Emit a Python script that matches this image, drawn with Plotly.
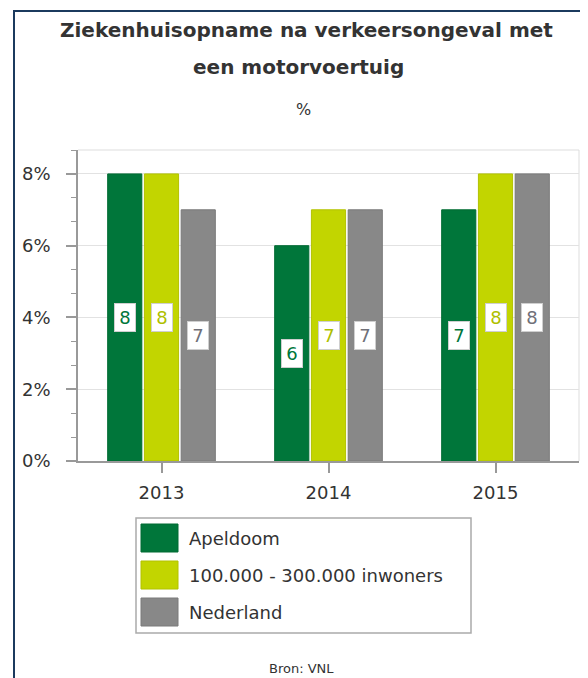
import plotly.graph_objects as go

# ---- data ----
years = ["2013", "2014", "2015"]
series_names = ["Apeldoom", "100.000 - 300.000 inwoners", "Nederland"]
apeldoorn = [8, 6, 7]
inwoners = [8, 7, 8]
nederland = [7, 7, 8]
y_tickvals = [0, 2, 4, 6, 8]
y_ticktext = ["0%", "2%", "4%", "6%", "8%"]

title_line1 = "Ziekenhuisopname na verkeersongeval met"
title_line2 = "een motorvoertuig"
subtitle = "%"
source = "Bron: VNL"

series_values = [apeldoorn, inwoners, nederland]
fill_colors = ["#00763a", "#c2d500", "#888888"]
line_colors = ["#006b33", "#b2c200", "#7a7a7a"]
label_colors = ["#00763a", "#aebf00", "#707078"]

# the page body adds an 8px offset; work in reference pixels and shift
OFF = 8
W, H = 588 - OFF, 678 - OFF
L, R, T, B = 78 - OFF, 579 - OFF, 150 - OFF, 461 - OFF  # plot area in figure px
FONT = "DejaVu Sans"
TXT = "#333333"


def px2x(px):
    """reference pixel x -> paper x"""
    return (px - OFF - L) / (R - L)


def py2y(py):
    """reference pixel y -> paper y"""
    return (B - (py - OFF)) / (B - T)


bargap = 0.34
bargroupgap = 0.07
slot = (1 - bargap) / len(series_names)

fig = go.Figure()
for name, vals, fc, lc in zip(series_names, series_values, fill_colors, line_colors):
    fig.add_trace(go.Bar(
        x=years, y=vals, name=name,
        marker=dict(color=fc, line=dict(color=lc, width=1)),
        showlegend=False, hoverinfo="skip",
    ))

annotations = []
# value labels in white boxes, centred in each bar
for k, (vals, tc) in enumerate(zip(series_values, label_colors)):
    for i, v in enumerate(vals):
        annotations.append(dict(
            x=i + (k - 1) * slot, y=v / 2, xref="x", yref="y",
            text=str(v), showarrow=False,
            font=dict(family=FONT, size=18, color=tc),
            bgcolor="white", bordercolor="#cfcfcf", borderwidth=1,
            borderpad=2, width=16, height=23,
            xanchor="center", yanchor="middle",
        ))

# titles
annotations.append(dict(x=px2x(306), y=py2y(30), xref="paper", yref="paper",
                        text="<b>" + title_line1 + "</b>", showarrow=False,
                        font=dict(family=FONT, size=20, color=TXT),
                        xanchor="center", yanchor="middle"))
annotations.append(dict(x=px2x(298), y=py2y(67), xref="paper", yref="paper",
                        text="<b>" + title_line2 + "</b>", showarrow=False,
                        font=dict(family=FONT, size=20, color=TXT),
                        xanchor="center", yanchor="middle"))
annotations.append(dict(x=px2x(303), y=py2y(109), xref="paper", yref="paper",
                        text=subtitle, showarrow=False,
                        font=dict(family=FONT, size=16, color=TXT),
                        xanchor="center", yanchor="middle"))
annotations.append(dict(x=px2x(301), y=py2y(668), xref="paper", yref="paper",
                        text=source, showarrow=False,
                        font=dict(family=FONT, size=13, color=TXT),
                        xanchor="center", yanchor="middle"))

shapes = []
# outer frame (left and top, navy)
shapes.append(dict(type="line", xref="paper", yref="paper",
                   x0=px2x(14), x1=px2x(14), y0=py2y(10), y1=py2y(690),
                   line=dict(color="#1b3a5e", width=2)))
shapes.append(dict(type="line", xref="paper", yref="paper",
                   x0=px2x(13), x1=px2x(600), y0=py2y(11), y1=py2y(11),
                   line=dict(color="#1b3a5e", width=2)))
# plot-area border top and right (light)
shapes.append(dict(type="line", xref="paper", yref="paper", layer="below",
                   x0=0, x1=1, y0=1, y1=1, line=dict(color="#dddddd", width=1)))
shapes.append(dict(type="line", xref="paper", yref="paper", layer="below",
                   x0=1, x1=1, y0=0, y1=1, line=dict(color="#dddddd", width=1)))

# manual legend
shapes.append(dict(type="rect", xref="paper", yref="paper",
                   x0=px2x(136), x1=px2x(471), y0=py2y(633), y1=py2y(518),
                   line=dict(color="#aaaaaa", width=1.5), fillcolor="white"))
row_centers = [538, 575, 612]
for name, fc, lc, cy in zip(series_names, fill_colors, line_colors, row_centers):
    shapes.append(dict(type="rect", xref="paper", yref="paper",
                       x0=px2x(141), x1=px2x(178), y0=py2y(cy + 14), y1=py2y(cy - 14),
                       line=dict(color=lc, width=1), fillcolor=fc))
    annotations.append(dict(x=px2x(187), y=py2y(cy), xref="paper", yref="paper",
                            text=name, showarrow=False,
                            font=dict(family=FONT, size=18, color=TXT),
                            xanchor="left", yanchor="middle"))

fig.update_layout(
    width=W, height=H,
    margin=dict(l=L, r=W - R, t=T, b=H - B, pad=0),
    paper_bgcolor="white", plot_bgcolor="white",
    barmode="group", bargap=bargap, bargroupgap=bargroupgap,
    showlegend=False,
    annotations=annotations, shapes=shapes,
    font=dict(family=FONT, color=TXT),
)
fig.update_xaxes(
    type="category", categoryorder="array", categoryarray=years,
    showline=True, linecolor="#999999", linewidth=1.5,
    ticks="outside", ticklen=10, tickcolor="#999999", tickwidth=1.5,
    ticklabelstandoff=5,
    tickfont=dict(family=FONT, size=18, color=TXT),
    showgrid=False, zeroline=False,
)
fig.update_yaxes(
    range=[0, 26 / 3], tickvals=y_tickvals, ticktext=y_ticktext,
    showline=True, linecolor="#999999", linewidth=1.5,
    ticks="outside", ticklen=10, tickcolor="#999999", tickwidth=1.5,
    ticklabelstandoff=12,
    tickfont=dict(family=FONT, size=18, color=TXT),
    showgrid=True, gridcolor="#e2e2e2", gridwidth=1, zeroline=False,
    minor=dict(dtick=2 / 3, tick0=0, ticks="outside", ticklen=5,
               tickcolor="#999999", tickwidth=1, showgrid=False),
)

fig.write_html("out.html")
